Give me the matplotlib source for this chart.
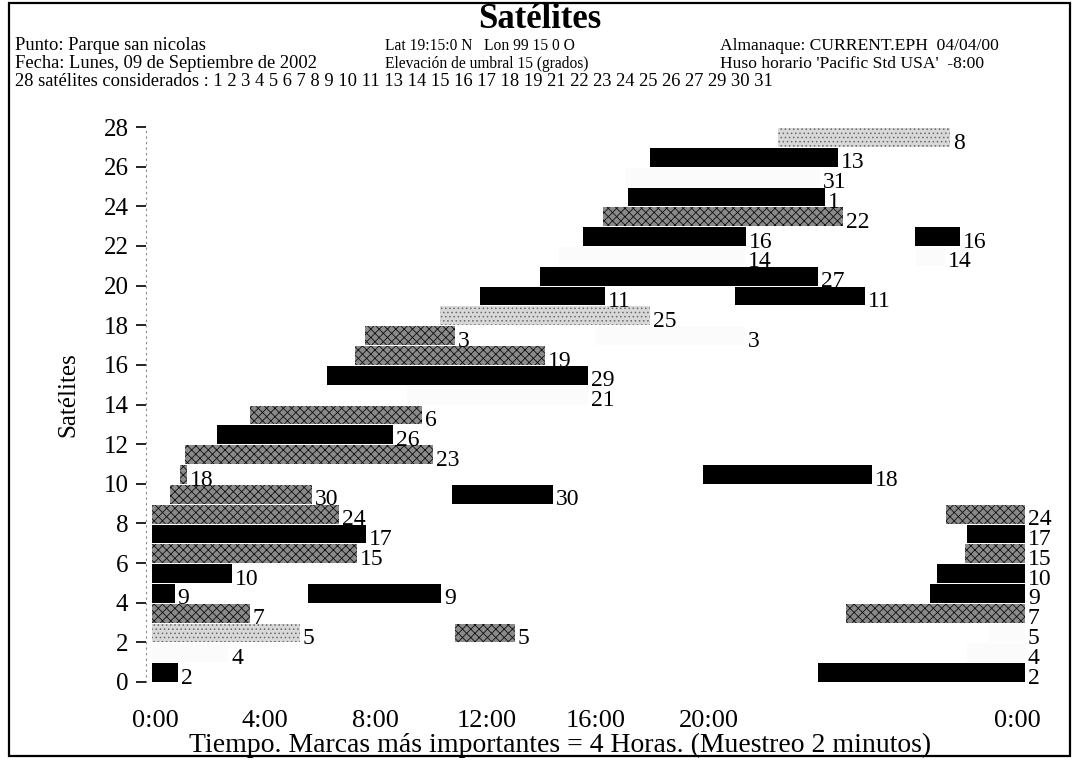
import matplotlib
matplotlib.use("Agg")
import matplotlib.pyplot as plt
from matplotlib.patches import Rectangle

plt.rcParams['font.family'] = ['Liberation Serif', 'DejaVu Serif']
plt.rcParams['hatch.linewidth'] = 0.6

# ---------------- data ----------------
title = "Satélites"
header_left = ["Punto: Parque san nicolas",
               "Fecha: Lunes, 09 de Septiembre de 2002",
               "28 satélites considerados : 1 2 3 4 5 6 7 8 9 10 11 13 14 15 16 17 18 19 21 22 23 24 25 26 27 29 30 31"]
header_mid = ["Lat 19:15:0 N   Lon 99 15 0 O",
              "Elevación de umbral 15 (grados)"]
header_right = ["Almanaque: CURRENT.EPH  04/04/00",
                "Huso horario 'Pacific Std USA'  -8:00"]

# satellite shown on each row, bottom to top
row_sats = [2, 4, 5, 7, 9, 10, 15, 17, 24, 30, 18, 23, 26, 6, 21, 29, 19, 3, 25, 11,
            27, 14, 16, 22, 1, 31, 13, 8]

# visibility passes (hours of the day)
pass_row   = [0, 0,  1, 1,  2, 2, 2,  3, 3,  4, 4, 4,  5, 5,  6, 6,  7, 7,  8, 8,
              9, 9,  10, 10,  11,  12,  13,  14,  15,  16,  17, 17,  18,  19, 19,
              20,  21, 21,  22, 22,  23,  24,  25,  26,  27]
pass_start = [0.0, 18.3,  0.0, 22.4,  0.0, 8.33, 23.0,  0.0, 19.08,  0.0, 4.29, 21.39,
              0.0, 21.58,  0.0, 22.35,  0.0, 22.41,  0.0, 21.83,
              0.49, 8.25,  0.77, 15.15,  0.91,  1.79,  2.69,  7.0,  4.81,  5.58,
              5.86, 12.18,  7.92,  9.02, 16.03,
              10.67,  11.2, 21.0,  11.85, 20.98,  12.40,  13.09,  13.0,  13.69,  17.21]
pass_end   = [0.71, 24.0,  2.1, 24.0,  4.07, 9.98, 24.0,  2.69, 24.0,  0.63, 7.95, 24.0,
              2.2, 24.0,  5.64, 24.0,  5.88, 24.0,  5.15, 24.0,
              4.40, 11.02,  0.96, 19.79,  7.73,  6.63,  7.42,  11.99,  11.99,  10.80,
              8.33, 16.30,  13.69,  12.45, 19.60,
              18.31,  16.30, 21.80,  16.33, 22.21,  19.0,  18.5,  18.36,  18.86,  21.94]
# k = solid black, d = dark stipple, l = light stipple, f = faint
pass_style = ['k', 'k',  'f', 'f',  'l', 'd', 'f',  'd', 'd',  'k', 'k', 'k',
              'k', 'k',  'd', 'd',  'k', 'k',  'd', 'd',
              'd', 'k',  'd', 'k',  'd',  'k',  'd',  'f',  'k',  'd',
              'd', 'f',  'l',  'k', 'k',
              'k',  'f', 'f',  'k', 'k',  'd',  'k',  'f',  'k',  'l']

y_ticks = list(range(0, 29, 2))
x_tick_labels = ["0:00", "4:00", "8:00", "12:00", "16:00", "20:00", "0:00"]
x_tick_pos = [0.1, 3.1, 6.15, 9.2, 12.2, 15.3, 23.8]

xlabel = "Tiempo. Marcas más importantes = 4 Horas. (Muestreo 2 minutos)"
ylabel = "Satélites"

# ---------------- figure ----------------
W, H = 1077, 762
fig = plt.figure(figsize=(W / 100, H / 100), dpi=100)
fig.patch.set_facecolor('white')

# outer frame
fig.add_artist(Rectangle((9 / W, 1 - 756 / H), (1070 - 9) / W, (756 - 3) / H,
                         transform=fig.transFigure, fill=False, lw=1.6, ec='black'))

ax = fig.add_axes([152 / W, 1 - 682 / H, (1025 - 152) / W, (682 - 127) / H])
ax.set_xlim(0, 24)
ax.set_ylim(0, 28)

styles = {
    'k': dict(facecolor='black', edgecolor='black', hatch=None),
    'd': dict(facecolor='#8a8a8a', edgecolor='#101010', hatch='xxxx'),
    'l': dict(facecolor='#d8d8d8', edgecolor='#6a6a6a', hatch='....'),
    'f': dict(facecolor='#fbfbfb', edgecolor='#fbfbfb', hatch=None),
}

bar_h = 0.95
for r, s, e, st in zip(pass_row, pass_start, pass_end, pass_style):
    y = r + 0.47
    kw = styles[st]
    ax.barh(y, e - s, left=s, height=bar_h, color=kw['facecolor'],
            edgecolor=kw['edgecolor'], hatch=kw['hatch'], linewidth=0)
    ax.annotate(str(row_sats[r]), xy=(e, y), xytext=(2, -4), textcoords='offset points',
                ha='left', va='center', fontsize=17, color='black',
                annotation_clip=False)

for side in ['top', 'right', 'bottom']:
    ax.spines[side].set_visible(False)
ax.spines['left'].set_linestyle((0, (1, 4)))
ax.spines['left'].set_color('#888888')
ax.spines['left'].set_linewidth(0.8)
ax.spines['left'].set_position(('outward', 4))

ax.set_yticks(y_ticks)
ax.set_yticklabels([str(v) for v in y_ticks], fontsize=18)
ax.tick_params(axis='y', length=7, width=1.2, direction='out', pad=6, color='black')
ax.set_xticks(x_tick_pos)
ax.set_xticklabels(x_tick_labels, fontsize=19)
ax.tick_params(axis='x', length=0, pad=20)

fig.text(540 / W, 1 - 20 / H, title, ha='center', va='center', fontsize=25,
         fontweight='bold')
ys = [46, 64, 82]
for i, t in enumerate(header_left):
    fig.text(15 / W, 1 - ys[i] / H, t, ha='left', va='center', fontsize=13.3)
for i, t in enumerate(header_mid):
    fig.text(385 / W, 1 - ys[i] / H, t, ha='left', va='center', fontsize=11.2)
for i, t in enumerate(header_right):
    fig.text(720 / W, 1 - ys[i] / H, t, ha='left', va='center', fontsize=12.6)

fig.text(560 / W, 1 - 745 / H, xlabel, ha='center', va='center', fontsize=20)
fig.text(68 / W, 1 - 395 / H, ylabel, ha='center', va='center', fontsize=18,
         rotation=90)

fig.savefig("out.png", dpi=100, facecolor='white')
